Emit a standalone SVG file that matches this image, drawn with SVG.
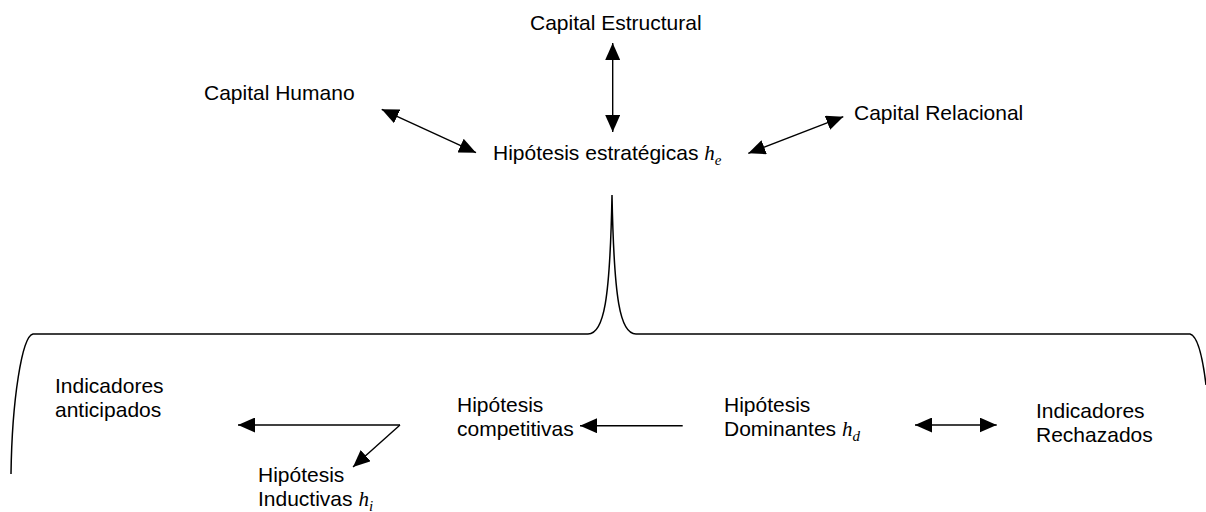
<svg xmlns="http://www.w3.org/2000/svg" width="1206" height="512" viewBox="0 0 1206 512">
<style>
text{font-family:"Liberation Sans",Arial,sans-serif;font-size:21px;fill:#000}
.m{font-family:"Liberation Serif","DejaVu Serif",serif;font-style:italic}
.sub{font-size:15px}
.c{fill:none;stroke:#000;stroke-width:1.4}
.b{fill:none;stroke:#000;stroke-width:1.5}
</style>
<defs>
<marker id="ah" viewBox="0 0 17 15" refX="17" refY="7.5" markerWidth="17" markerHeight="15" markerUnits="userSpaceOnUse" orient="auto-start-reverse">
<path d="M0,0 L17,7.5 L0,15 z" fill="#000"/>
</marker>
</defs>
<rect width="1206" height="512" fill="#fff"/>
<g id="brace">
<path class="b" d="M11,474 C12,400 22,336 33,334 L588,334 C604,334 610,300 612,195 C614,300 620,334 636,334 L1190,334 C1198,336 1203,360 1206,385"/>
</g>
<g id="connectors">
<path class="c" d="M612.7,43 L612.7,132" marker-start="url(#ah)" marker-end="url(#ah)"/>
<path class="c" d="M381.7,109.3 L476,152.7" marker-start="url(#ah)" marker-end="url(#ah)"/>
<path class="c" d="M748.3,153.3 L843.3,116.7" marker-start="url(#ah)" marker-end="url(#ah)"/>
<path class="c" d="M682.7,425.7 L580,425.7" marker-end="url(#ah)"/>
<path class="c" d="M915,425 L996.7,425" marker-start="url(#ah)" marker-end="url(#ah)"/>
<path class="c" d="M400,425 L238,425" marker-end="url(#ah)"/>
<path class="c" d="M400,425 L353,467" marker-end="url(#ah)"/>
</g>
<g id="n-estructural"><text x="530" y="30">Capital Estructural</text></g>
<g id="n-humano"><text x="204" y="100">Capital Humano</text></g>
<g id="n-relacional"><text x="854" y="120">Capital Relacional</text></g>
<g id="n-estrategicas"><text x="493" y="160">Hipótesis estratégicas <tspan class="m">h</tspan><tspan class="m sub" dy="5">e</tspan></text></g>
<g id="n-anticipados"><text x="55" y="393">Indicadores</text><text x="55" y="417">anticipados</text></g>
<g id="n-inductivas"><text x="258" y="482">Hipótesis</text><text x="258" y="506">Inductivas <tspan class="m">h</tspan><tspan class="m sub" dy="5">i</tspan></text></g>
<g id="n-competitivas"><text x="457" y="412">Hipótesis</text><text x="457" y="436">competitivas</text></g>
<g id="n-dominantes"><text x="724" y="412">Hipótesis</text><text x="724" y="436">Dominantes <tspan class="m">h</tspan><tspan class="m sub" dy="5">d</tspan></text></g>
<g id="n-rechazados"><text x="1036" y="418">Indicadores</text><text x="1036" y="442">Rechazados</text></g>
</svg>
